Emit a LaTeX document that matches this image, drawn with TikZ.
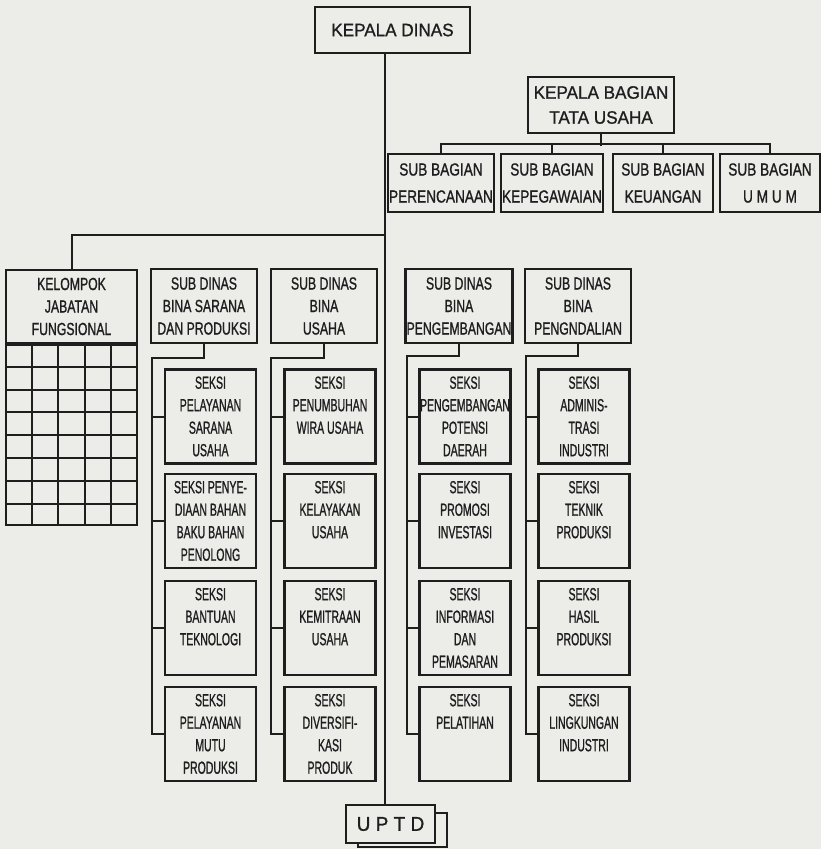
\documentclass[tikz,border=0pt]{standalone}
\usepackage{fontspec}
\setmainfont{Liberation Sans}
\newfontfamily\titlefont{Liberation Sans}[FakeStretch=0.95, FakeBold=1]
\newfontfamily\bagianfont{Liberation Sans}[FakeStretch=0.78, FakeBold=1]
\newfontfamily\dinasfont{Liberation Sans}[FakeStretch=0.7, FakeBold=1]
\newfontfamily\seksifont{Liberation Sans}[FakeStretch=0.6, FakeBold=1]
\usetikzlibrary{calc}
\definecolor{paper}{RGB}{236,236,233}
\definecolor{ink}{RGB}{30,30,30}
\newcommand{\seksitext}[1]{\parbox[c][80pt][t]{91pt}{\centering #1}}

\begin{document}
\begin{tikzpicture}[x=1pt, y=-1pt,
    box/.style={draw=ink, line width=2.2pt, align=center, text=ink},
    title/.style={box, font=\titlefont\fontsize{18}{25}\selectfont},
    bagian/.style={box, minimum width=100, minimum height=58, inner xsep=1pt, font=\bagianfont\fontsize{17.5}{27}\selectfont},
    dinas/.style={box, minimum width=106, minimum height=74, inner xsep=1pt, font=\dinasfont\fontsize{17.5}{22.5}\selectfont},
    seksi/.style={box, inner xsep=0pt, inner ysep=7pt, font=\seksifont\fontsize{17.5}{22.5}\selectfont},
    link/.style={draw=ink, line width=2pt}]
    % paper
    \fill[paper] (0,0) rectangle (821,849);
    \useasboundingbox (0,0) rectangle (821,849);

    % top
    \node[title, minimum width=155, minimum height=46] (kd) at (392.5,30) {KEPALA DINAS};
    \node[title, minimum width=146, minimum height=56] (kb) at (601,105) {KEPALA BAGIAN\\TATA USAHA};

    % sub bagian
    \node[bagian] (sb1) at (441,183) {SUB BAGIAN\\PERENCANAAN};
    \node[bagian] (sb2) at (552,183) {SUB BAGIAN\\KEPEGAWAIAN};
    \node[bagian] (sb3) at (663,183) {SUB BAGIAN\\KEUANGAN};
    \node[bagian] (sb4) at (770,183) {SUB BAGIAN\\U M U M};

    % kelompok jabatan fungsional
    \node[dinas, minimum width=131, minimum height=73] (kjf) at (71.5,306.5) {KELOMPOK\\JABATAN\\FUNGSIONAL};
    \node[box, minimum width=131, minimum height=180, anchor=north] (kjfgrid) at (kjf.south) {};
    \foreach \i in {1,...,4}
        \draw[link] ($(kjfgrid.north west)!\i/5!(kjfgrid.north east)$) -- ($(kjfgrid.south west)!\i/5!(kjfgrid.south east)$);
    \foreach \j in {1,...,7}
        \draw[link] ($(kjfgrid.north west)!\j/8!(kjfgrid.south west)$) -- ($(kjfgrid.north east)!\j/8!(kjfgrid.south east)$);

    % sub dinas
    \node[dinas] (sd1) at (204,306) {SUB DINAS\\BINA SARANA\\DAN PRODUKSI};
    \node[dinas] (sd2) at (324,306) {SUB DINAS\\BINA\\USAHA};
    \node[dinas] (sd3) at (459,306) {SUB DINAS\\BINA\\PENGEMBANGAN};
    \node[dinas] (sd4) at (578,306) {SUB DINAS\\BINA\\PENGNDALIAN};

    % seksi bina sarana dan produksi
    \node[seksi] (s11) at (210.5,416.5) {\seksitext{SEKSI\\PELAYANAN\\SARANA\\USAHA}};
    \node[seksi] (s12) at (210.5,521) {\seksitext{SEKSI PENYE-\\DIAAN BAHAN\\BAKU BAHAN\\PENOLONG}};
    \node[seksi] (s13) at (210.5,628) {\seksitext{SEKSI\\BANTUAN\\TEKNOLOGI}};
    \node[seksi] (s14) at (210.5,734) {\seksitext{SEKSI\\PELAYANAN\\MUTU\\PRODUKSI}};

    % seksi bina usaha
    \node[seksi] (s21) at (330,416.5) {\seksitext{SEKSI\\PENUMBUHAN\\WIRA USAHA}};
    \node[seksi] (s22) at (330,521) {\seksitext{SEKSI\\KELAYAKAN\\USAHA}};
    \node[seksi] (s23) at (330,628) {\seksitext{SEKSI\\KEMITRAAN\\USAHA}};
    \node[seksi] (s24) at (330,734) {\seksitext{SEKSI\\DIVERSIFI-\\KASI\\PRODUK}};

    % seksi bina pengembangan
    \node[seksi] (s31) at (465,416.5) {\seksitext{SEKSI\\PENGEMBANGAN\\POTENSI\\DAERAH}};
    \node[seksi] (s32) at (465,521) {\seksitext{SEKSI\\PROMOSI\\INVESTASI}};
    \node[seksi] (s33) at (465,628) {\seksitext{SEKSI\\INFORMASI\\DAN\\PEMASARAN}};
    \node[seksi] (s34) at (465,734) {\seksitext{SEKSI\\PELATIHAN}};

    % seksi bina pengndalian
    \node[seksi] (s41) at (584,416.5) {\seksitext{SEKSI\\ADMINIS-\\TRASI\\INDUSTRI}};
    \node[seksi] (s42) at (584,521) {\seksitext{SEKSI\\TEKNIK\\PRODUKSI}};
    \node[seksi] (s43) at (584,628) {\seksitext{SEKSI\\HASIL\\PRODUKSI}};
    \node[seksi] (s44) at (584,734) {\seksitext{SEKSI\\LINGKUNGAN\\INDUSTRI}};

    % uptd
    \node[box, minimum width=89, minimum height=34] (uptdsh) at (402.5,830) {};
    \node[box, fill=paper, minimum width=89, minimum height=38, font=\titlefont\fontsize{20}{24}\selectfont] (uptd) at (390.5,824) {U P T D};

    % main line
    \coordinate (jt) at (385,235);
    \draw[link] (kd.south -| jt) -- (uptd.north -| jt);
    \draw[link] (jt) -| (kjf.north);

    % tata usaha
    \draw[link] (kb.south) -- ++(0,12);
    \draw[link] (sb1.north) -- ++(0,-9) -| (sb4.north);
    \draw[link] (sb2.north) -- ++(0,-9);
    \draw[link] (sb3.north) -- ++(0,-9);

    % seksi lines
    \draw[link] (sd1.south) -- ++(0,14) -| ([xshift=-12pt]s14.west) -- (s14.west);
    \foreach \s in {s11,s12,s13} \draw[link] (\s.west) -- ++(-12,0);
    \draw[link] (sd2.south) -- ++(0,14) -| ([xshift=-12pt]s24.west) -- (s24.west);
    \foreach \s in {s21,s22,s23} \draw[link] (\s.west) -- ++(-12,0);
    \draw[link] (sd3.south) -- ++(0,12) -| ([xshift=-11pt]s34.west) -- (s34.west);
    \foreach \s in {s31,s32,s33} \draw[link] (\s.west) -- ++(-11,0);
    \draw[link] (sd4.south) -- ++(0,12) -| ([xshift=-11pt]s44.west) -- (s44.west);
    \foreach \s in {s41,s42,s43} \draw[link] (\s.west) -- ++(-11,0);
\end{tikzpicture}
\end{document}
